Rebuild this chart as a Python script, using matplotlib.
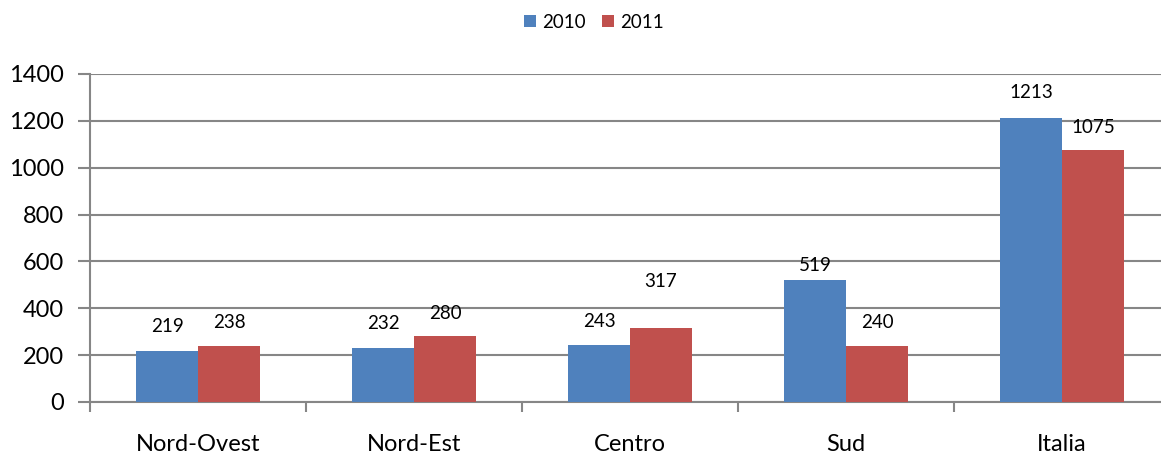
import matplotlib.pyplot as plt
import numpy as np

regions = ['Nord-Ovest', 'Nord-Est', 'Centro', 'Sud', 'Italia']
values_2010 = [219, 232, 243, 519, 1213]
values_2011 = [238, 280, 317, 240, 1075]

# label distance above each bar top (pixels), labels were nudged by hand in the original
offsets_2010 = [24, 24, 24, 15, 25]
offsets_2011 = [24, 23, 46, 23, 23]

plt.rcParams['font.family'] = ['Lato', 'DejaVu Sans']

fig = plt.figure(figsize=(11.61, 4.53), dpi=100)
ax = fig.add_axes([90 / 1161, 51 / 453, 1080 / 1161, 328 / 453])

x = np.arange(len(regions))
w = 0.287
b1 = ax.bar(x - w / 2, values_2010, w, color='#4F81BD', label='2010', zorder=3)
b2 = ax.bar(x + w / 2, values_2011, w, color='#C0504D', label='2011', zorder=3)

for bars, offs in ((b1, offsets_2010), (b2, offsets_2011)):
    for rect, off in zip(bars, offs):
        h = rect.get_height()
        ax.annotate(str(h), (rect.get_x() + rect.get_width() / 2, h),
                    xytext=(0, off * 0.72), textcoords='offset points',
                    ha='center', va='center', fontsize=13.5)

ax.set_ylim(0, 1400)
ax.set_yticks(range(0, 1401, 200))
ax.set_xlim(-0.5, len(regions) - 0.5)
ax.yaxis.grid(True, color='#868686', linewidth=1.5, zorder=0)

# category ticks sit on the boundaries, labels in between
ax.set_xticks(np.arange(-0.5, len(regions), 1.0))
ax.set_xticklabels([])
ax.set_xticks(x, minor=True)
ax.set_xticklabels(regions, minor=True, fontsize=17)
ax.tick_params(axis='x', which='minor', length=0, pad=23)
ax.tick_params(axis='x', which='major', length=7, width=1.5, color='#868686')
ax.tick_params(axis='y', length=9, width=1.5, color='#868686', labelsize=17, pad=10)

for s in ['top', 'right']:
    ax.spines[s].set_visible(False)
for s in ['left', 'bottom']:
    ax.spines[s].set_color('#868686')
    ax.spines[s].set_linewidth(1.5)

fig.legend(loc='center', bbox_to_anchor=(594 / 1161, 1 - 22 / 453), ncol=2,
           frameon=False, fontsize=13.5, handlelength=0.65, handleheight=0.65,
           handletextpad=0.32, columnspacing=0.85)

fig.savefig('out.png', dpi=100)
